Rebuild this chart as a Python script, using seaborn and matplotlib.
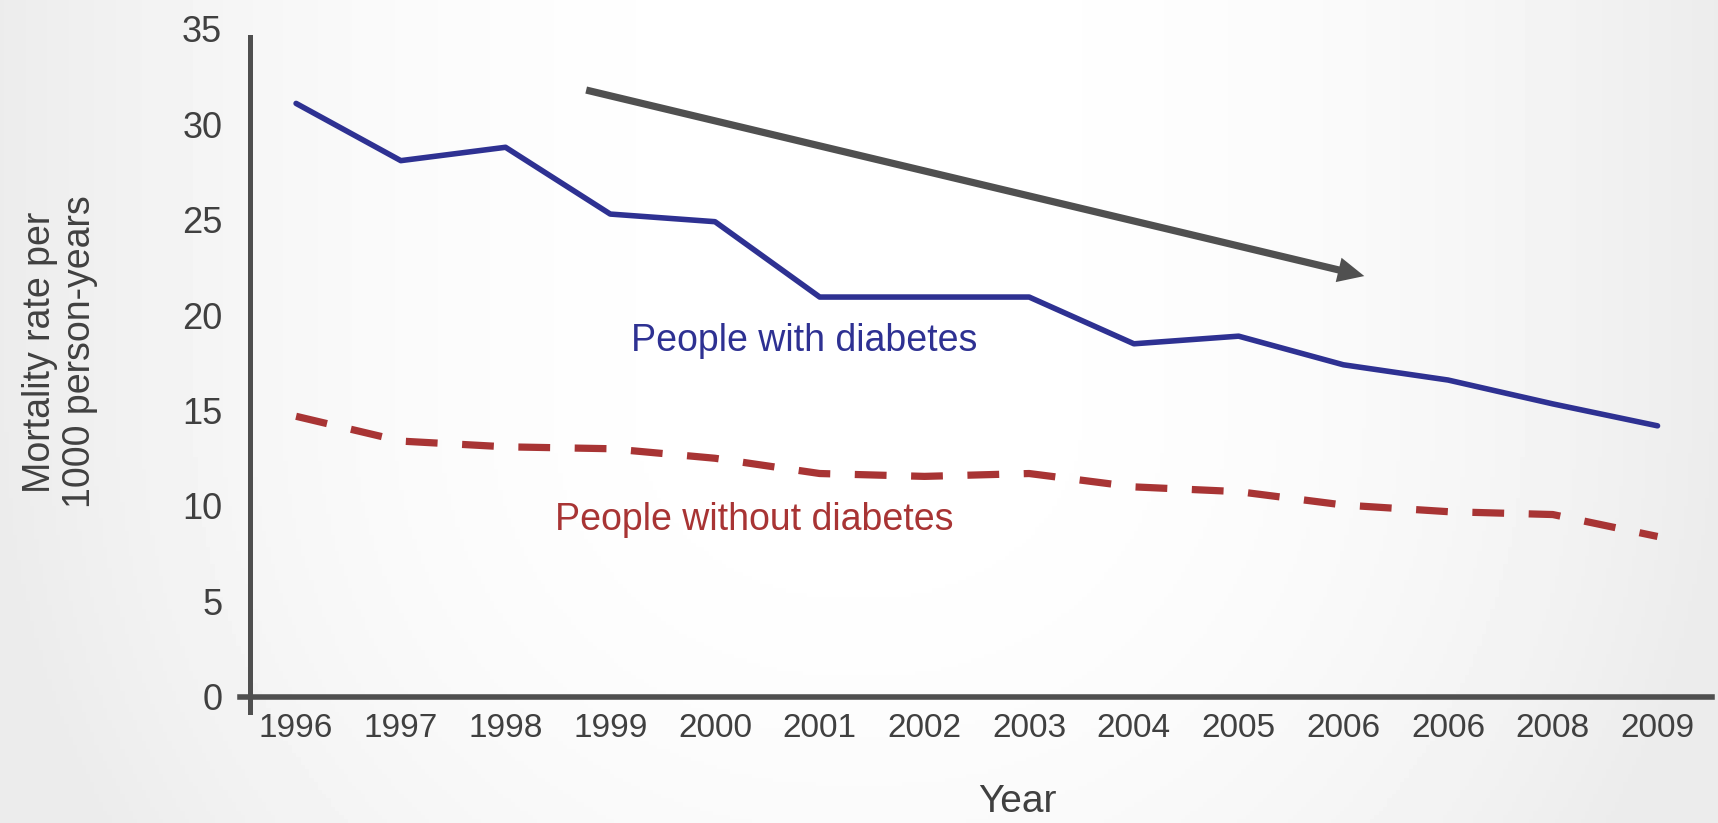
# Mortality rate among people with / without diabetes, 1996-2009
import numpy as np
import pandas as pd
import matplotlib
matplotlib.use('Agg')
import matplotlib.pyplot as plt
import seaborn as sns

sns.set_theme(style="white")
plt.rcParams['font.family'] = ['Liberation Sans', 'DejaVu Sans']

# --- data ---
years = ['1996', '1997', '1998', '1999', '2000', '2001', '2002',
         '2003', '2004', '2005', '2006', '2006', '2008', '2009']
with_diabetes = [31.1, 28.1, 28.8, 25.3, 24.9, 20.95, 20.95,
                 20.95, 18.5, 18.9, 17.4, 16.6, 15.35, 14.2]
without_diabetes = [14.7, 13.4, 13.1, 13.0, 12.5, 11.7, 11.55,
                    11.7, 11.0, 10.75, 10.05, 9.7, 9.55, 8.4]
y_ticks = [0, 5, 10, 15, 20, 25, 30, 35]

BLUE = '#2e3192'
RED = '#a83434'
AXIS = '#4f4f4f'
TEXT = '#404040'

df = pd.DataFrame({'pos': np.arange(len(years)),
                   'with': with_diabetes,
                   'without': without_diabetes})

fig = plt.figure(figsize=(17.18, 8.23), dpi=100)

# soft grey slide background, white in the middle
bg = fig.add_axes([0, 0, 1, 1], zorder=-5)
gx = np.linspace(-1, 1, 400)
gy = np.linspace(-1, 1, 200)
GX, GY = np.meshgrid(gx, gy)
shade = 1 - 0.075 * np.clip(np.abs(GX) ** 2.2 + 0.25 * np.clip(GY, 0, None) ** 2, 0, 1)
bg.imshow(shade, cmap='gray', vmin=0, vmax=1, aspect='auto', extent=[0, 1, 0, 1])
bg.axis('off')

ax = fig.add_axes([250 / 1718, (823 - 712) / 823, 1462 / 1718, (712 - 29) / 823])
ax.set_facecolor('none')

sns.lineplot(data=df, x='pos', y='with', ax=ax, color=BLUE, lw=4, legend=False)
sns.lineplot(data=df, x='pos', y='without', ax=ax, color=RED, lw=5.2, legend=False)
ax.lines[1].set_dashes([4.4, 3.4])

ax.set_xlim(-0.44, len(years) - 1 + 0.52)
ax.set_ylim(-0.8, 35.0)
ax.set_xticks(df['pos'])
ax.set_xticklabels(years)
ax.set_yticks(y_ticks)
ax.tick_params(axis='both', length=0, colors=TEXT)
ax.tick_params(axis='x', labelsize=24, pad=12)
ax.tick_params(axis='y', labelsize=26, pad=20)

for s in ['top', 'right']:
    ax.spines[s].set_visible(False)
ax.spines['left'].set_color(AXIS)
ax.spines['left'].set_linewidth(3.6)
ax.spines['left'].set_bounds(-0.8, 34.6)
ax.spines['bottom'].set_color(AXIS)
ax.spines['bottom'].set_linewidth(4)
ax.spines['bottom'].set_position(('data', 0))
ax.spines['bottom'].set_bounds(-0.54, len(years) - 1 + 0.52)
ax.set_xlabel('')
ax.set_ylabel('')

# trend arrow
ax.annotate('', xy=(10.2, 22.05), xytext=(2.77, 31.8),
            arrowprops=dict(arrowstyle='simple,head_length=1.9,head_width=1.8,tail_width=0.52',
                            mutation_scale=10, color='#505050', lw=0,
                            shrinkA=0, shrinkB=0))

# series labels
ax.text(3.2, 18.1, 'People with diabetes', color=BLUE, fontsize=27,
        ha='left', va='baseline')
ax.text(2.47, 8.76, 'People without diabetes', color=RED, fontsize=27,
        ha='left', va='baseline')

fig.text(60 / 1718, 1 - 352 / 823, 'Mortality rate per\n1000 person-years',
         rotation=90, ha='center', va='center', multialignment='center',
         fontsize=27, color=TEXT, linespacing=1.17)
fig.text(1017 / 1718, 3 / 823, 'Year', ha='center', va='bottom',
         fontsize=28, color=TEXT)

plt.savefig('out.png', dpi=100)
plt.close()
